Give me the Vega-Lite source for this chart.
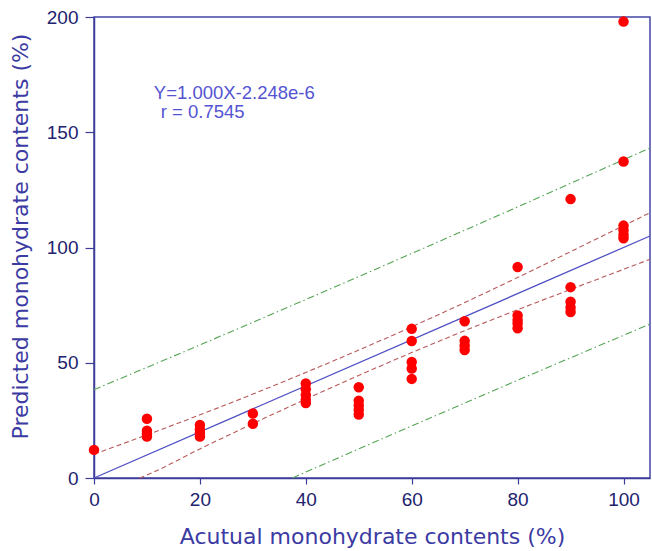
{
  "$schema": "https://vega.github.io/schema/vega-lite/v6.json",
  "width": 556,
  "height": 461,
  "autosize": {"type": "none"},
  "padding": {"left": 94, "top": 17, "right": 2, "bottom": 73},
  "background": "white",
  "config": {
    "view": {"stroke": "#4646a6", "strokeWidth": 1.5},
    "axis": {
      "grid": false,
      "domainColor": "#3d3d99", "domainWidth": 1.5,
      "tickColor": "#3d3d99", "tickWidth": 1.2,
      "labelFont": "Liberation Sans", "labelFontSize": 19, "labelColor": "#22226e",
      "labelFlush": false, "labelOverlap": false,
      "titleFont": "DejaVu Sans", "titleFontSize": 22, "titleFontWeight": "normal",
      "titleColor": "#3b3ba3"
    },
    "axisX": {
      "tickSize": 6, "labelPadding": 6,
      "titleX": 278, "titleY": 65, "titleAlign": "center", "titleBaseline": "alphabetic"
    },
    "axisY": {
      "tickSize": 9, "labelPadding": 7,
      "titleX": -74, "titleY": 219, "titleAngle": -90, "titleAlign": "center", "titleBaseline": "middle"
    }
  },
  "datasets": {
    "points": [
      {"actual": 0, "predicted": 12.2},
      {"actual": 10, "predicted": 25.7},
      {"actual": 10, "predicted": 20.5},
      {"actual": 10, "predicted": 19.2},
      {"actual": 10, "predicted": 18.0},
      {"actual": 20, "predicted": 23.0},
      {"actual": 20, "predicted": 21.0},
      {"actual": 20, "predicted": 19.5},
      {"actual": 20, "predicted": 18.0},
      {"actual": 30, "predicted": 28.0},
      {"actual": 30, "predicted": 23.5},
      {"actual": 40, "predicted": 41.0},
      {"actual": 40, "predicted": 38.5},
      {"actual": 40, "predicted": 36.0},
      {"actual": 40, "predicted": 34.0},
      {"actual": 40, "predicted": 32.5},
      {"actual": 50, "predicted": 39.4},
      {"actual": 50, "predicted": 33.5},
      {"actual": 50, "predicted": 31.5},
      {"actual": 50, "predicted": 29.5},
      {"actual": 50, "predicted": 27.5},
      {"actual": 60, "predicted": 64.7},
      {"actual": 60, "predicted": 59.4},
      {"actual": 60, "predicted": 50.3},
      {"actual": 60, "predicted": 47.5},
      {"actual": 60, "predicted": 43.0},
      {"actual": 70, "predicted": 68.0},
      {"actual": 70, "predicted": 59.5},
      {"actual": 70, "predicted": 57.5},
      {"actual": 70, "predicted": 55.5},
      {"actual": 80, "predicted": 91.5},
      {"actual": 80, "predicted": 70.5},
      {"actual": 80, "predicted": 68.5},
      {"actual": 80, "predicted": 67.0},
      {"actual": 80, "predicted": 65.0},
      {"actual": 90, "predicted": 121.0},
      {"actual": 90, "predicted": 82.8},
      {"actual": 90, "predicted": 76.5},
      {"actual": 90, "predicted": 74.0},
      {"actual": 90, "predicted": 72.0},
      {"actual": 100, "predicted": 198.0},
      {"actual": 100, "predicted": 137.3},
      {"actual": 100, "predicted": 109.5},
      {"actual": 100, "predicted": 107.5},
      {"actual": 100, "predicted": 105.5},
      {"actual": 100, "predicted": 104.0}
    ],
    "lines": [
      {"series": "fit", "x": 0, "y": 0},
      {"series": "fit", "x": 105, "y": 105},
      {"series": "conf_up", "x": 0, "y": 10.3},
      {"series": "conf_up", "x": 10, "y": 18.7},
      {"series": "conf_up", "x": 20, "y": 27.4},
      {"series": "conf_up", "x": 30, "y": 36.4},
      {"series": "conf_up", "x": 40, "y": 45.8},
      {"series": "conf_up", "x": 50, "y": 55.5},
      {"series": "conf_up", "x": 60, "y": 65.6},
      {"series": "conf_up", "x": 70, "y": 76.1},
      {"series": "conf_up", "x": 80, "y": 87.0},
      {"series": "conf_up", "x": 90, "y": 98.2},
      {"series": "conf_up", "x": 105, "y": 115.1},
      {"series": "conf_lo", "x": 8.6, "y": 0},
      {"series": "conf_lo", "x": 10, "y": 1.3},
      {"series": "conf_lo", "x": 20, "y": 12.6},
      {"series": "conf_lo", "x": 30, "y": 23.6},
      {"series": "conf_lo", "x": 40, "y": 34.2},
      {"series": "conf_lo", "x": 50, "y": 44.5},
      {"series": "conf_lo", "x": 60, "y": 54.4},
      {"series": "conf_lo", "x": 70, "y": 63.9},
      {"series": "conf_lo", "x": 80, "y": 73.0},
      {"series": "conf_lo", "x": 90, "y": 81.8},
      {"series": "conf_lo", "x": 105, "y": 94.9},
      {"series": "pred_up", "x": 0, "y": 38.3},
      {"series": "pred_up", "x": 20, "y": 57.7},
      {"series": "pred_up", "x": 40, "y": 77.4},
      {"series": "pred_up", "x": 60, "y": 97.4},
      {"series": "pred_up", "x": 80, "y": 117.6},
      {"series": "pred_up", "x": 105, "y": 143.2},
      {"series": "pred_lo", "x": 37.5, "y": 0},
      {"series": "pred_lo", "x": 40, "y": 2.6},
      {"series": "pred_lo", "x": 60, "y": 22.6},
      {"series": "pred_lo", "x": 80, "y": 42.4},
      {"series": "pred_lo", "x": 105, "y": 66.8}
    ]
  },
  "encoding": {
    "x": {
      "type": "quantitative",
      "scale": {"domain": [0, 105], "nice": false, "zero": false},
      "axis": {"values": [0, 20, 40, 60, 80, 100]},
      "title": "Acutual monohydrate contents (%)"
    },
    "y": {
      "type": "quantitative",
      "scale": {"domain": [0, 200], "nice": false, "zero": false},
      "axis": {"values": [0, 50, 100, 150, 200]},
      "title": "Predicted monohydrate contents (%)"
    }
  },
  "layer": [
    {
      "data": {"name": "lines"},
      "transform": [{"filter": "datum.series === 'pred_up' || datum.series === 'pred_lo'"}],
      "mark": {"type": "line", "color": "#55a455", "strokeWidth": 1.1, "strokeDash": [7, 3, 1.5, 3]},
      "encoding": {
        "x": {"field": "x"},
        "y": {"field": "y"},
        "detail": {"field": "series"}
      }
    },
    {
      "data": {"name": "lines"},
      "transform": [{"filter": "datum.series === 'conf_up' || datum.series === 'conf_lo'"}],
      "mark": {"type": "line", "color": "#b85a5a", "strokeWidth": 1.1, "strokeDash": [5, 3], "interpolate": "monotone"},
      "encoding": {
        "x": {"field": "x"},
        "y": {"field": "y"},
        "detail": {"field": "series"}
      }
    },
    {
      "data": {"name": "lines"},
      "transform": [{"filter": "datum.series === 'fit'"}],
      "mark": {"type": "line", "color": "#5050c4", "strokeWidth": 1.3},
      "encoding": {
        "x": {"field": "x"},
        "y": {"field": "y"}
      }
    },
    {
      "data": {"name": "points"},
      "mark": {"type": "point", "shape": "circle", "filled": true, "color": "#ff0000", "opacity": 1, "size": 110, "clip": false},
      "encoding": {
        "x": {"field": "actual"},
        "y": {"field": "predicted"}
      }
    },
    {
      "data": {"values": [{}]},
      "mark": {
        "type": "text",
        "text": "Y=1.000X-2.248e-6",
        "font": "Liberation Sans", "fontSize": 18.5, "color": "#5454d2",
        "align": "left", "baseline": "alphabetic"
      },
      "encoding": {
        "x": {"datum": 11.3},
        "y": {"datum": 164.6}
      }
    },
    {
      "data": {"values": [{}]},
      "mark": {
        "type": "text",
        "text": "r = 0.7545",
        "font": "Liberation Sans", "fontSize": 18.5, "color": "#5454d2",
        "align": "left", "baseline": "alphabetic"
      },
      "encoding": {
        "x": {"datum": 12.6},
        "y": {"datum": 156.2}
      }
    }
  ]
}
